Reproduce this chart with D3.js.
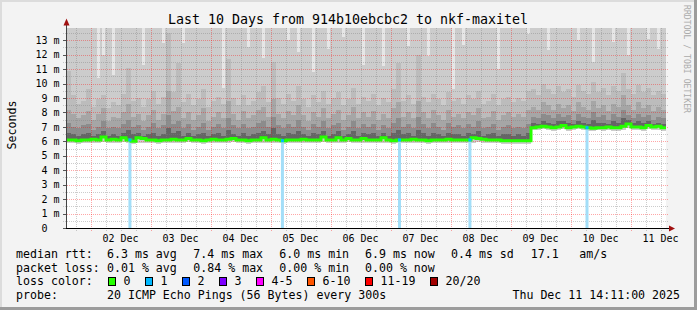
<!DOCTYPE html>
<meta charset="utf-8"/>
<style>
  body { margin: 0; background: #f3f3f3; }
  svg text { font-family: "DejaVu Sans Mono", monospace; fill: #000; }
</style>
<svg width="697" height="310"></svg>
<script src="https://cdn.jsdelivr.net/npm/d3@7/dist/d3.min.js"></script>
<script>

// ---- data (one value per 2 hour column) ----
var startTime = new Date(2025, 11, 1, 14, 11);
var endTime = new Date(2025, 11, 11, 14, 11);
var colHours = 2;

// median rtt, ms
var median = [
  6.1, 6.1, 6.05, 6.1, 6.1, 6.15, 6.1, 6.3, 6.1, 6.15,
  6.1, 6.25, 6.1, 6.0, 6.25, 6.2, 6.1, 6.1, 6.05, 6.1,
  6.1, 6.15, 6.1, 6.1, 6.2, 6.1, 6.1, 6.05, 6.1, 6.15,
  6.1, 6.1, 6.15, 6.2, 6.1, 6.1, 6.05, 6.1, 6.1, 6.25,
  6.1, 6.15, 6.1, 6.05, 6.1, 6.1, 6.1, 6.15, 6.1, 6.1,
  6.1, 6.3, 6.1, 6.1, 6.25, 6.1, 6.2, 6.1, 6.1, 6.2,
  6.1, 6.1, 6.1, 6.25, 6.1, 6.05, 6.1, 6.1, 6.1, 6.15,
  6.1, 6.1, 6.05, 6.1, 6.1, 6.1, 6.15, 6.1, 6.1, 6.1,
  6.1, 6.25, 6.2, 6.15, 6.1, 6.1, 6.1, 6.05, 6.05, 6.05,
  6.05, 6.05, 6.05, 6.95, 7.0, 7.05, 7.0, 6.95, 7.0, 7.1,
  6.95, 7.0, 7.05, 7.0, 6.95, 6.9, 6.95, 6.95, 7.0, 6.95,
  6.95, 7.05, 7.2, 7.0, 7.0, 6.95, 7.1, 7.0, 7.05, 6.95
];

// fastest ping
var minRtt = [
  5.9, 5.9, 5.85, 5.9, 5.9, 5.9, 5.9, 5.95, 5.9, 5.9,
  5.9, 5.95, 5.9, 5.85, 5.9, 5.9, 5.9, 5.9, 5.85, 5.9,
  5.9, 5.9, 5.9, 5.9, 5.95, 5.9, 5.9, 5.85, 5.9, 5.9,
  5.9, 5.9, 5.9, 5.95, 5.9, 5.9, 5.85, 5.9, 5.9, 5.9,
  5.9, 5.9, 5.9, 5.85, 5.9, 5.9, 5.9, 5.9, 5.9, 5.9,
  5.9, 5.95, 5.9, 5.9, 5.9, 5.9, 5.95, 5.9, 5.9, 5.9,
  5.9, 5.9, 5.9, 5.9, 5.9, 5.85, 5.9, 5.9, 5.9, 5.9,
  5.9, 5.9, 5.85, 5.9, 5.9, 5.9, 5.9, 5.9, 5.9, 5.9,
  5.9, 5.9, 5.95, 5.9, 5.9, 5.9, 5.9, 5.85, 5.85, 5.85,
  5.85, 5.85, 5.85, 6.8, 6.8, 6.85, 6.8, 6.75, 6.8, 6.85,
  6.75, 6.8, 6.85, 6.8, 6.75, 6.75, 6.8, 6.75, 6.8, 6.75,
  6.75, 6.8, 6.9, 6.8, 6.8, 6.75, 6.85, 6.8, 6.8, 6.75
];

// smoke layers: upper edge of each band, ms
var p55 = [
  6.6, 6.5, 6.4, 6.5, 6.6, 6.4, 6.5, 6.7, 6.4, 6.5,
  6.4, 6.6, 6.8, 6.5, 6.6, 6.4, 6.5, 6.6, 6.4, 6.5,
  6.9, 6.6, 6.7, 6.4, 6.6, 6.4, 6.5, 6.6, 6.4, 6.5,
  6.6, 6.4, 6.8, 6.5, 6.4, 6.6, 6.4, 6.5, 6.6, 6.7,
  6.5, 6.9, 6.5, 6.4, 6.6, 6.5, 6.7, 6.5, 6.4, 6.6,
  6.5, 6.7, 6.4, 6.5, 6.7, 6.4, 6.5, 6.7, 6.4, 6.6,
  6.5, 6.6, 6.4, 6.6, 6.4, 6.6, 6.8, 6.5, 6.6, 6.4,
  6.8, 6.6, 6.4, 6.6, 6.5, 6.4, 6.6, 6.5, 6.5, 6.4,
  6.6, 6.5, 6.7, 6.4, 6.5, 6.6, 6.4, 6.5, 6.5, 6.4,
  6.5, 6.4, 6.6, 7.3, 7.2, 7.4, 7.3, 7.2, 7.4, 7.4,
  7.3, 7.2, 7.4, 7.3, 7.2, 7.5, 7.3, 7.3, 7.2, 7.4,
  7.3, 7.6, 7.5, 7.3, 7.4, 7.3, 7.4, 7.2, 7.3, 7.2
];
var p70 = [
  7.3, 7.0, 6.9, 7.1, 7.2, 6.8, 7.0, 7.4, 6.9, 7.0,
  6.9, 7.2, 7.5, 7.0, 7.1, 6.8, 7.0, 7.3, 6.9, 7.1,
  7.8, 7.2, 7.4, 6.9, 7.2, 6.8, 7.0, 7.3, 6.8, 7.0,
  7.2, 6.9, 7.6, 7.1, 6.9, 7.2, 6.9, 7.0, 7.3, 7.4,
  7.0, 7.7, 7.1, 6.9, 7.2, 7.0, 7.5, 7.0, 6.8, 7.2,
  7.0, 7.4, 6.9, 7.1, 7.3, 6.8, 7.0, 7.4, 6.9, 7.2,
  7.0, 7.2, 6.8, 7.1, 6.9, 7.3, 7.6, 7.0, 7.2, 6.9,
  7.7, 7.2, 6.9, 7.3, 7.0, 6.8, 7.3, 7.0, 7.1, 6.9,
  7.2, 7.0, 7.4, 6.9, 7.0, 7.2, 6.8, 7.0, 7.1, 6.9,
  7.0, 6.9, 7.2, 7.7, 7.6, 7.9, 7.8, 7.6, 7.9, 7.7,
  7.8, 7.5, 7.9, 7.7, 7.6, 8.0, 7.7, 7.8, 7.5, 7.9,
  7.7, 8.2, 7.8, 7.6, 7.9, 7.7, 7.8, 7.5, 7.7, 7.6
];
var p85 = [
  8.2, 7.9, 7.6, 7.8, 8.1, 7.5, 7.9, 8.3, 7.4, 7.7,
  7.6, 8.0, 8.6, 7.7, 7.9, 7.4, 7.8, 8.2, 7.5, 7.9,
  9.5, 8.1, 8.4, 7.6, 8.0, 7.5, 7.8, 8.3, 7.4, 7.7,
  8.0, 7.6, 8.8, 7.9, 7.5, 8.1, 7.6, 7.8, 8.2, 8.4,
  7.7, 8.9, 7.9, 7.6, 8.1, 7.8, 8.5, 7.8, 7.4, 8.0,
  7.7, 8.3, 7.6, 7.9, 8.2, 7.5, 7.8, 8.4, 7.6, 8.0,
  7.7, 8.1, 7.5, 7.9, 7.6, 8.3, 8.7, 7.7, 8.0, 7.6,
  8.8, 8.0, 7.6, 8.2, 7.8, 7.5, 8.2, 7.7, 7.9, 7.6,
  8.0, 7.8, 8.3, 7.6, 7.7, 8.1, 7.5, 7.8, 8.0, 7.7,
  7.9, 7.7, 8.2, 8.4, 8.2, 8.7, 8.5, 8.2, 8.6, 8.3,
  8.5, 8.1, 8.7, 8.4, 8.2, 8.8, 8.3, 8.5, 8.1, 8.6,
  8.4, 9.2, 8.5, 8.2, 8.7, 8.3, 8.5, 8.1, 8.4, 8.2
];
var p95 = [
  10.9, 9.2, 8.6, 8.8, 9.6, 8.4, 8.9, 9.2, 8.3, 8.7,
  8.5, 9.3, 11.1, 8.8, 9.0, 8.4, 8.9, 9.5, 8.6, 9.1,
  13.5, 9.4, 11.4, 8.7, 9.3, 8.5, 8.9, 9.6, 8.4, 8.8,
  9.1, 8.6, 11.7, 9.0, 8.5, 9.2, 8.5, 8.8, 9.4, 9.8,
  8.7, 11.5, 9.0, 8.6, 9.3, 8.8, 9.8, 8.9, 8.4, 9.2,
  8.7, 9.5, 8.6, 9.0, 9.4, 8.5, 8.9, 9.7, 8.6, 9.1,
  8.8, 9.3, 8.5, 9.0, 8.7, 9.6, 11.4, 8.8, 9.2, 8.6,
  12.0, 9.1, 8.7, 9.3, 8.9, 8.5, 9.4, 8.8, 9.0, 8.6,
  9.2, 8.9, 9.5, 8.6, 8.8, 9.3, 8.5, 8.9, 9.1, 8.7,
  9.0, 8.8, 9.5, 9.6, 9.2, 10.0, 9.6, 9.3, 9.8, 9.4,
  9.6, 9.1, 9.9, 9.5, 9.3, 10.1, 9.4, 9.7, 9.2, 9.8,
  9.5, 10.7, 9.6, 9.3, 9.9, 9.4, 9.7, 9.2, 9.5, 9.3
];
// slowest ping, 14 = above the top of the graph
var maxRtt = [
  14, 14, 14, 14, 14, 14, 10.4, 12.0, 14, 10.6,
  14, 14, 14, 14, 14, 11.3, 14, 14, 14, 12.8,
  14, 14, 14, 12.8, 14, 14, 14, 14, 14, 14,
  14, 9.7, 14, 14, 14, 14, 12.5, 14, 14, 11.8,
  14, 14, 14, 14, 13.0, 14, 12.2, 14, 14, 10.8,
  14, 14, 12.4, 14, 14, 13.2, 14, 14, 14, 11.3,
  14, 14, 14, 11.2, 14, 14, 14, 14, 12.6, 14,
  14, 14, 11.9, 14, 14, 14, 14, 9.6, 14, 12.7,
  14, 14, 14, 14, 14, 14, 11.0, 14, 14, 14,
  14, 14, 13.4, 14, 14, 14, 12.3, 14, 14, 14,
  14, 14, 13.0, 14, 14, 11.5, 14, 14, 14, 12.9,
  14, 14, 12.0, 14, 14, 14, 13.1, 14, 12.4, 14
];

// lost pings (out of 20)
var lossTimes = ["2025-12-02 15:45", "2025-12-05 04:45", "2025-12-07 03:35", "2025-12-08 07:45", "2025-12-10 06:35"];
var lossCounts = [1, 1, 1, 1, 1];

var yTickValues = [0, 1, 2, 3, 4, 5, 6, 7, 8, 9, 10, 11, 12, 13];

var titleText = "Last 10 Days from 914b10ebcbc2 to nkf-maxitel";
var rttStats = ["6.3 ms avg", "7.4 ms max", "6.0 ms min", "6.9 ms now", "0.4 ms sd", "17.1", "am/s"];
var lossStats = ["0.01 % avg", "0.84 % max", "0.00 % min", "0.00 % now"];
var lossLabels = ["0", "1", "2", "3", "4-5", "6-10", "11-19", "20/20"];
var lossColors = ["#26ff00", "#00b8ff", "#0059ff", "#7e00ff", "#ff00ff", "#ff5500", "#ff0000", "#a10000"];
var probeText = "20 ICMP Echo Pings (56 Bytes) every 300s";
var stampText = "Thu Dec 11 14:11:00 2025";

// ---- chart ----
var svg = d3.select("svg");
var W = 697, H = 310;
var yTop = 13.85;

var x = d3.scaleTime().domain([startTime, endTime]).range([66, 666]);
var y = d3.scaleLinear().domain([0, yTop]).range([228, 28]);

svg.append("rect").attr("width", W).attr("height", H).attr("fill", "#f3f3f3");
// 3d frame
svg.append("rect").attr("x", 0).attr("y", 0).attr("width", W).attr("height", 2).attr("fill", "#dcdcdc");
svg.append("rect").attr("x", 0).attr("y", 0).attr("width", 2).attr("height", H).attr("fill", "#dcdcdc");
svg.append("rect").attr("x", 0).attr("y", H - 3).attr("width", W).attr("height", 3).attr("fill", "#9c9c9c");
svg.append("rect").attr("x", W - 3).attr("y", 0).attr("width", 3).attr("height", H).attr("fill", "#9c9c9c");

// plot area
svg.append("rect").attr("x", 66).attr("y", 28).attr("width", 600).attr("height", 200).attr("fill", "#fff");

var cols = median.map(function (m, i) {
  return {
    t0: d3.timeHour.offset(startTime, i * colHours),
    t1: d3.timeHour.offset(startTime, (i + 1) * colHours),
    med: m, lo: minRtt[i], p55: p55[i], p70: p70[i], p85: p85[i], p95: p95[i], max: maxRtt[i]
  };
});

var smoke = svg.append("g").attr("shape-rendering", "crispEdges");

// outer smoke, up to the top of the graph
smoke.selectAll(".outer").data(cols).enter().append("rect")
  .attr("x", function (d) { return x(d.t0); })
  .attr("width", function (d) { return x(d.t1) - x(d.t0); })
  .attr("y", y(yTop))
  .attr("height", function (d) { return y(d.lo) - y(yTop); })
  .attr("fill", "#cccccc");

// columns where even the slowest ping stays inside the graph
smoke.selectAll(".gap").data(cols.filter(function (d) { return d.max < yTop; })).enter().append("rect")
  .attr("x", function (d) { return x(d.t0) + 1; })
  .attr("width", 3)
  .attr("y", y(yTop))
  .attr("height", function (d) { return y(d.max) - y(yTop); })
  .attr("fill", "#e6e6e6");

var bands = [
  { key: "p95", color: "#bcbcbc" },
  { key: "p85", color: "#a6a6a6" },
  { key: "p70", color: "#8c8c8c" },
  { key: "p55", color: "#656565" }
];
bands.forEach(function (b) {
  smoke.selectAll(".b" + b.key).data(cols).enter().append("rect")
    .attr("x", function (d) { return x(d.t0); })
    .attr("width", function (d) { return x(d.t1) - x(d.t0); })
    .attr("y", function (d) { return y(d[b.key]); })
    .attr("height", function (d) { return y(d.med) - y(d[b.key]); })
    .attr("fill", b.color);
});

// grid
var grid = svg.append("g").attr("shape-rendering", "crispEdges");
var hLines = y.ticks(28).filter(function (v) { return v > 0; });
grid.selectAll(".hg").data(hLines).enter().append("line")
  .attr("x1", 63).attr("x2", 668)
  .attr("y1", function (v) { return Math.round(y(v)) + 0.5; })
  .attr("y2", function (v) { return Math.round(y(v)) + 0.5; })
  .attr("stroke", function (v) { return v % 1 === 0 ? "#ff0000" : "#808080"; })
  .attr("stroke-opacity", function (v) { return v % 1 === 0 ? 0.35 : 0.4; })
  .attr("stroke-dasharray", "1,1");

var vLines = d3.timeHour.every(6).range(startTime, endTime);
grid.selectAll(".vg").data(vLines).enter().append("line")
  .attr("x1", function (t) { return Math.round(x(t)) + 0.5; })
  .attr("x2", function (t) { return Math.round(x(t)) + 0.5; })
  .attr("y1", 28).attr("y2", 231)
  .attr("stroke", function (t) { return t.getHours() === 0 ? "#ff0000" : "#808080"; })
  .attr("stroke-opacity", function (t) { return t.getHours() === 0 ? 0.35 : 0.4; })
  .attr("stroke-dasharray", "1,1");

// loss bars
var parseT = d3.timeParse("%Y-%m-%d %H:%M");
var losses = lossTimes.map(function (s, i) {
  var t = parseT(s);
  var c = cols.find(function (d) { return t >= d.t0 && t < d.t1; });
  return { t: t, n: lossCounts[i], med: c.med };
});
svg.selectAll(".lossbar").data(losses).enter().append("rect")
  .attr("x", function (d) { return x(d.t) - 1.5; })
  .attr("width", 3)
  .attr("y", function (d) { return y(d.med); })
  .attr("height", function (d) { return y(0) - y(d.med); })
  .attr("fill", "#a3def8");

// median line
var medPts = cols.map(function (d) { return [d.t0, d.med]; });
medPts.push([endTime, median[median.length - 1]]);
svg.append("path")
  .datum(medPts)
  .attr("fill", "none")
  .attr("stroke", lossColors[0])
  .attr("stroke-width", 3)
  .attr("d", d3.line().curve(d3.curveStepAfter)
    .x(function (p) { return x(p[0]); })
    .y(function (p) { return y(p[1]); }));

svg.selectAll(".lossmed").data(losses).enter().append("rect")
  .attr("x", function (d) { return x(d.t) - 1.5; })
  .attr("width", 3)
  .attr("y", function (d) { return y(d.med) - 1.5; })
  .attr("height", 3)
  .attr("fill", function (d) { return lossColors[d.n]; });

// axes
svg.append("line").attr("x1", 66.5).attr("x2", 66.5).attr("y1", 228).attr("y2", 23)
  .attr("stroke", "#444").attr("stroke-width", 1);
svg.append("line").attr("x1", 64).attr("x2", 670).attr("y1", 228.5).attr("y2", 228.5)
  .attr("stroke", "#000").attr("stroke-width", 1);
svg.append("path").attr("d", "M63.5,25.5L66.5,18.5L69.5,25.5Z").attr("fill", "#a01010");
svg.append("path").attr("d", "M669,225.5L675,228.5L669,231.5Z").attr("fill", "#a01010");

svg.selectAll(".ytick").data(yTickValues).enter().append("line")
  .attr("x1", 63).attr("x2", 66)
  .attr("y1", function (v) { return Math.round(y(v)) + 0.5; })
  .attr("y2", function (v) { return Math.round(y(v)) + 0.5; })
  .attr("stroke", "#555");

svg.selectAll(".ylab").data(yTickValues).enter().append("text")
  .attr("x", function (v) { return v === 0 ? 47.5 : 59.5; })
  .attr("y", function (v) { return y(v) + 3.6; })
  .attr("text-anchor", "end")
  .style("font-size", "10px")
  .text(function (v) { return v === 0 ? "0" : v + " m"; });

var dayLabels = d3.timeDay.range(startTime, endTime).map(function (d) { return d3.timeHour.offset(d, 12); })
  .filter(function (t) { return t > startTime && t < endTime; });
var fmtDay = d3.timeFormat("%d %b");
svg.selectAll(".xlab").data(dayLabels).enter().append("text")
  .attr("x", function (t) { return x(t); })
  .attr("y", 241.5)
  .attr("text-anchor", "middle")
  .style("font-size", "10px")
  .text(function (t) { return fmtDay(t); });

// title and side labels
svg.append("text").attr("x", 348).attr("y", 24).attr("text-anchor", "middle")
  .style("font-size", "13.3px").text(titleText);
svg.append("text").attr("transform", "translate(15.5,125) rotate(-90)").attr("text-anchor", "middle")
  .style("font-size", "11.6px").text("Seconds");
svg.append("text").attr("transform", "translate(684,5) rotate(90)")
  .attr("textLength", 108).attr("lengthAdjust", "spacingAndGlyphs")
  .style("font-size", "9px").style("fill", "#aaaaaa").text("RRDTOOL / TOBI OETIKER");

// legend
var lg = svg.append("g").style("font-size", "11.6px");
var statX = [107, 193.3, 279.3, 365, 451, 530.7, 579.3];
lg.append("text").attr("x", 16).attr("y", 258).text("median rtt:");
rttStats.forEach(function (s, i) { lg.append("text").attr("x", statX[i]).attr("y", 258).text(s); });
lg.append("text").attr("x", 16).attr("y", 271.5).text("packet loss:");
lossStats.forEach(function (s, i) { lg.append("text").attr("x", statX[i]).attr("y", 271.5).text(s); });
lg.append("text").attr("x", 16).attr("y", 285).text("loss color:");
var bx = 108.5;
lossLabels.forEach(function (s, i) {
  lg.append("rect").attr("x", bx).attr("y", 277.5).attr("width", 7).attr("height", 8)
    .attr("fill", lossColors[i]).attr("stroke", "#000");
  lg.append("text").attr("x", bx + 15).attr("y", 285).text(s);
  bx += 15 + 7 * s.length + 15;
});
lg.append("text").attr("x", 16).attr("y", 298.5).text("probe:");
lg.append("text").attr("x", 107).attr("y", 298.5).text(probeText);
lg.append("text").attr("x", 680).attr("y", 298.5).attr("text-anchor", "end").text(stampText);

</script>
